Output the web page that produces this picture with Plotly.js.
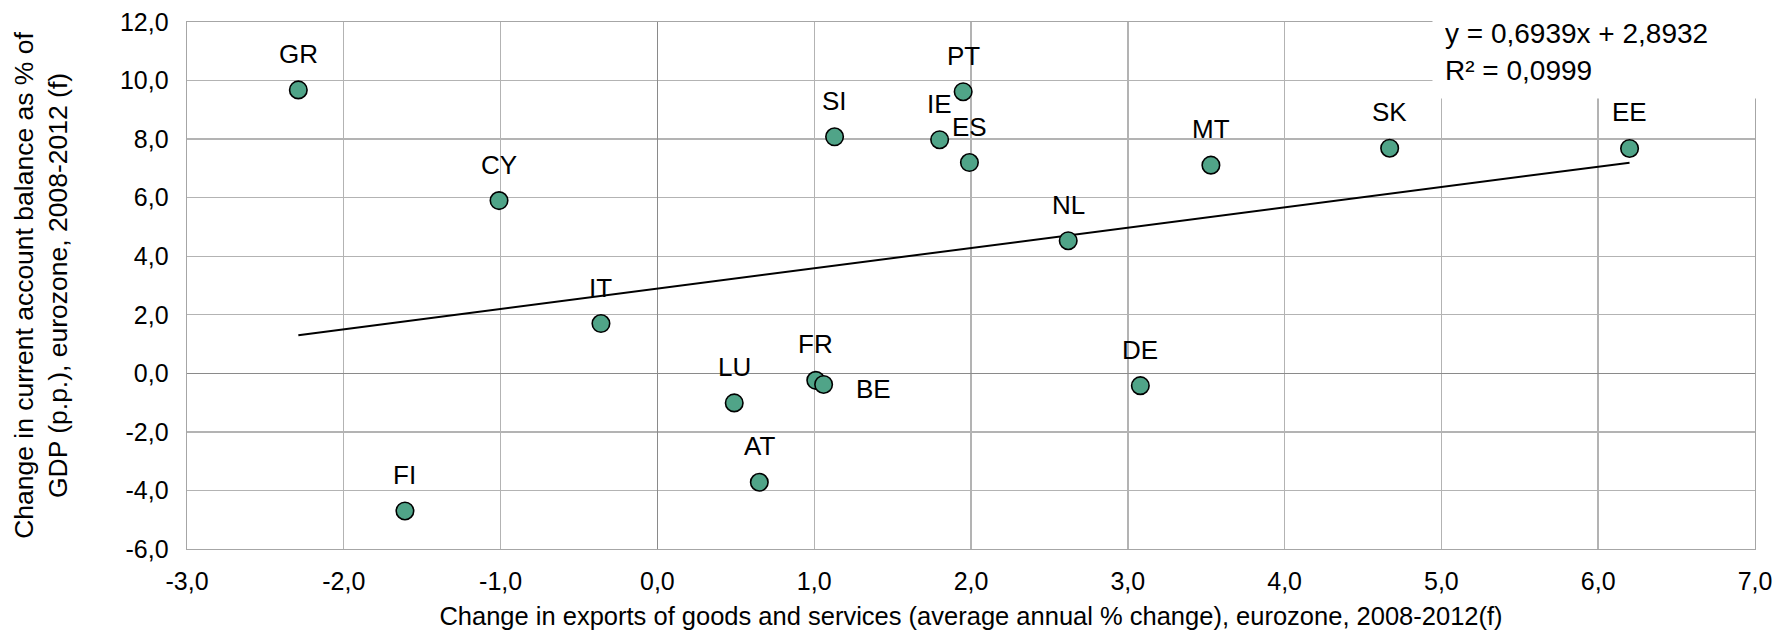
<!DOCTYPE html>
<html>
<head>
<meta charset="utf-8">
<script src="https://cdn.plot.ly/plotly-3.0.1.min.js"></script>
<style>
  html, body { margin: 0; padding: 0; background: #fff; }
  #chart { width: 1788px; height: 637px; }
</style>
</head>
<body>
<div id="chart"></div>
<script>
// ---- data ----
const countries = ["GR", "CY", "IT", "FI", "LU", "AT", "FR", "BE", "SI", "IE", "PT", "ES", "NL", "DE", "MT", "SK", "EE"];
const exportsChange = [-2.29, -1.01, -0.36, -1.61, 0.49, 0.65, 1.01, 1.06, 1.13, 1.80, 1.95, 1.99, 2.62, 3.08, 3.53, 4.67, 6.20];
const currentAccountChange = [9.68, 5.90, 1.70, -4.70, -1.01, -3.72, -0.24, -0.38, 8.08, 7.98, 9.62, 7.20, 4.53, -0.42, 7.11, 7.69, 7.68];
const trendSlope = 0.6939;
const trendIntercept = 2.8932;
const trendR2 = 0.0999;
const xTickValues = [-3, -2, -1, 0, 1, 2, 3, 4, 5, 6, 7];
const yTickValues = [-6, -4, -2, 0, 2, 4, 6, 8, 10, 12];

// ---- label placement (style, not data) ----
const labelOffsets = { BE: { xshift: 50, yshift: -5 } };
const defaultLabelShift = { xshift: 0, yshift: 36 };

const FONT = "Liberation Sans, Arial, sans-serif";
const fmt = v => v.toFixed(4).replace(".", ",");
const tickText = v => v.toFixed(1).replace(".", ",");

const xMin = Math.min(...exportsChange);
const xMax = Math.max(...exportsChange);
const trendX = [xMin, xMax];
const trendY = trendX.map(x => trendSlope * x + trendIntercept);

const traces = [
  {
    x: trendX, y: trendY, type: "scatter", mode: "lines",
    line: { color: "#000000", width: 2 }, hoverinfo: "skip", showlegend: false
  },
  {
    x: exportsChange, y: currentAccountChange, text: countries,
    type: "scatter", mode: "markers",
    marker: { size: 17.5, color: "#50a488", line: { color: "#000000", width: 1.6 } },
    showlegend: false
  }
];

const annotations = countries.map((c, i) => {
  const off = labelOffsets[c] || defaultLabelShift;
  return {
    x: exportsChange[i], y: currentAccountChange[i], xref: "x", yref: "y",
    text: c, showarrow: false, xshift: off.xshift, yshift: off.yshift,
    font: { family: FONT, size: 26, color: "#000" }
  };
});

annotations.push({
  xref: "paper", yref: "paper", x: 0.794, y: 1.032, xanchor: "left", yanchor: "top",
  text: "y = " + fmt(trendSlope) + "x + " + fmt(trendIntercept) + "<br>R² = " + fmt(trendR2),
  align: "left", width: 330, height: 68, valign: "middle",
  bgcolor: "#ffffff", borderpad: 12, showarrow: false,
  font: { family: FONT, size: 28, color: "#000" }
});

const axisCommon = {
  showgrid: true, gridcolor: "#b3b3b3", gridwidth: 1.4,
  zeroline: true, zerolinecolor: "#8a8a8a", zerolinewidth: 1.6,
  showline: true, linecolor: "#a6a6a6", linewidth: 1.4, mirror: true,
  ticks: "",
  tickfont: { family: FONT, size: 25, color: "#000" }
};

const layout = {
  width: 1788, height: 637,
  paper_bgcolor: "#ffffff", plot_bgcolor: "#ffffff",
  separators: ", ",
  margin: { l: 187, r: 33, t: 22, b: 88 },
  font: { family: FONT, color: "#000" },
  xaxis: Object.assign({}, axisCommon, {
    range: [-3, 7], tickmode: "array", tickvals: xTickValues, ticktext: xTickValues.map(tickText),
    ticklabelstandoff: 10,
    title: {
      text: "Change in exports of goods and services (average annual % change), eurozone, 2008-2012(f)",
      font: { family: FONT, size: 25.5, color: "#000" }, standoff: 12
    }
  }),
  yaxis: Object.assign({}, axisCommon, {
    range: [-6, 12], tickmode: "array", tickvals: yTickValues, ticktext: yTickValues.map(tickText),
    ticklabelstandoff: 12,
    title: {
      text: "Change in current account balance as % of<br>GDP (p.p.), eurozone, 2008-2012 (f)",
      font: { family: FONT, size: 26.5, color: "#000" }, standoff: 44
    }
  }),
  annotations: annotations,
  showlegend: false
};

Plotly.newPlot("chart", traces, layout, { displayModeBar: false, staticPlot: true });
</script>
</body>
</html>
